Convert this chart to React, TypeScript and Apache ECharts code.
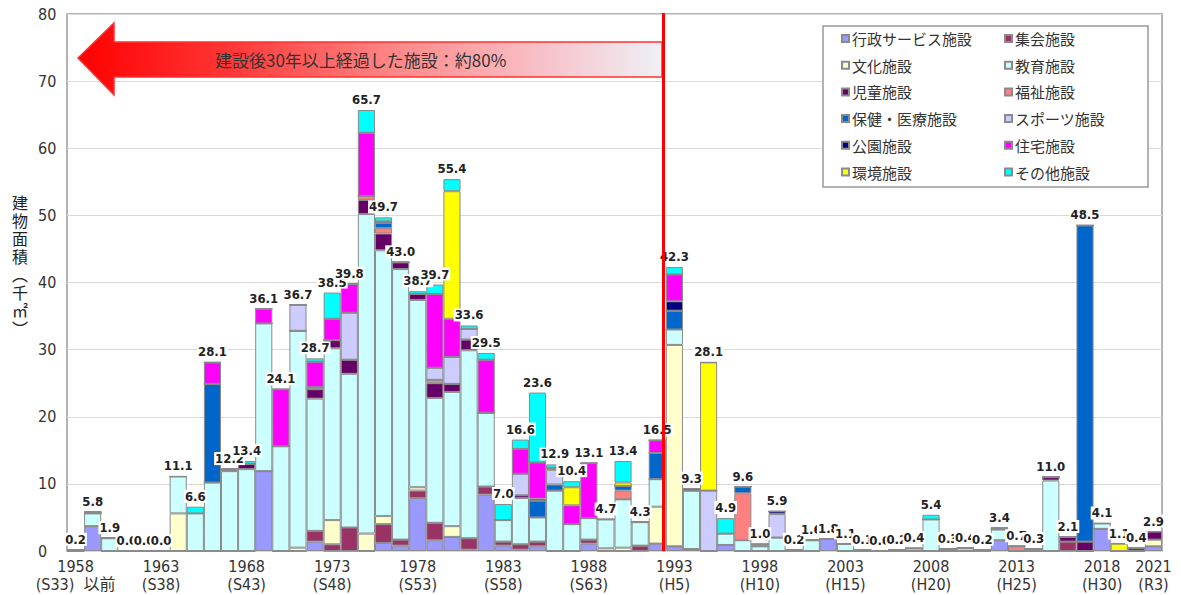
import React, { useEffect, useRef } from "react";
import * as echarts from "echarts";

const years = [
  "1958","1959","1960","1961","1962","1963","1964","1965","1966","1967",
  "1968","1969","1970","1971","1972","1973","1974","1975","1976","1977",
  "1978","1979","1980","1981","1982","1983","1984","1985","1986","1987",
  "1988","1989","1990","1991","1992","1993","1994","1995","1996","1997",
  "1998","1999","2000","2001","2002","2003","2004","2005","2006","2007",
  "2008","2009","2010","2011","2012","2013","2014","2015","2016","2017",
  "2018","2019","2020","2021",
];

const tickYears = ["1958","1963","1968","1973","1978","1983","1988","1993","1998","2003","2008","2013","2018","2021"];
const tickEras = ["(S33)  以前","(S38)","(S43)","(S48)","(S53)","(S58)","(S63)","(H5)","(H10)","(H15)","(H20)","(H25)","(H30)","(R3)"];

const gyosei = [
  0,3.7,0,0,0,0,0,0,0,0,
  0,11.9,0,0,1.4,0,0,0,1.2,0.8,
  7.9,1.6,2.1,0.2,8.4,0.8,0.2,0.7,0,0,
  1.1,0,0,0,1.1,0.7,0.3,0,0.9,0,
  0,0,0,0,1.8,0,0,0,0,0,
  0,0,0,0,1.6,0,0,0,0,0,
  3.3,0,0,0.7,
];
const shukai = [
  0,0,0,0,0,0,0,0,0,0,
  0,0,0,0,1.6,1.0,3.5,0,2.8,0.9,
  1.1,2.6,0,1.7,1.2,0.6,0.8,0.7,0,0,
  0.6,0,0,0.8,0,0,0,0,0,0,
  0,0,0,0,0,0,0,0,0,0,
  0,0,0,0,0,0,0,0,1.4,0,
  0,0,0,0,
];
const bunka = [
  0,0,0,0,0,0,5.6,0,0,0,
  0,0,0,0.5,0,3.6,0,2.6,1.2,0,
  0.5,0,1.6,0,0,0,0,0,0,0,
  0,0.4,0.5,0,5.5,30.0,0,0,0,0,
  0,0,0,0,0,0,0,0,0,0,
  0,0,0,0,0,0,0,0,0,0,
  0,0,0,1.0,
];
const kyoiku = [
  0.2,1.9,1.9,0,0,0,5.5,5.6,10.2,11.9,
  12.2,22.0,15.6,32.3,19.7,25.6,22.9,47.6,39.6,40.3,
  27.9,18.6,20.0,28.0,11.0,3.2,6.9,3.6,9.0,4.0,
  3.2,4.3,7.2,3.5,4.1,2.3,8.7,0,1.7,1.6,
  0.7,2.0,0.2,1.6,0,1.1,0.1,0,0.2,0,
  4.7,0,0.4,0.2,1.6,0,0.3,10.5,0,0,
  0.8,0,0,0,
];
const jido = [
  0,0,0,0,0,0,0,0,0,0.3,
  0.8,0,0,0,1.4,1.2,2.1,2.1,2.5,1.0,
  0.9,2.2,1.2,1.6,0,0,0.4,0,0,0,
  0,0,0,0,0,0,0,0,0,0,
  0,0,0,0,0,0,0,0,0,0,
  0,0.3,0,0,0,0,0,0.5,0.7,1.4,
  0,0,0.4,1.2,
];
const fukushi = [
  0,0,0,0,0,0,0,0,0,0,
  0,0,0,0,0,0,0,0.6,0.8,0,
  0,0.5,0,0,0,0,0,0,0,0,
  0,0,1.3,0,0,0,0,0,0,7.0,
  0,0,0,0,0,0,0,0,0,0,
  0,0,0,0,0,0.7,0,0,0,0,
  0,0,0,0,
];
const hoken = [
  0,0,0,0,0,0,0,0,14.7,0,
  0,0,0,0,0,0,0,0,0.8,0,
  0,0,0,0,0,0,0,2.5,0.9,0,
  0,0,0.7,0,3.9,2.8,0,0,0,1.0,
  0,0,0,0,0,0,0,0,0,0,
  0,0,0,0,0,0,0,0,0,47.1,
  0,0,0,0,
];
const sports = [
  0,0.2,0,0,0,0,0,0,0,0,
  0,0,0,3.9,0.3,0,7.0,0,0,0,
  0,1.8,4.0,1.6,0,0,3.2,0,2.2,0,
  0,0,0,0,0,0,0,9.0,0,0,
  0.3,3.5,0,0,0,0,0,0,0,0.4,
  0,0,0,0,0.2,0,0,0,0,0,
  0,0,0,0,
];
const koen = [
  0,0,0,0,0,0,0,0,0,0,
  0,0,0,0,0,0,0,0,0.2,0,
  0,0,0,0,0,0,0,0.3,0.3,0,
  0,0,0,0,0,1.4,0.3,0,0,0,
  0,0.4,0,0,0,0,0,0,0,0,
  0,0,0,0,0,0,0,0,0,0,
  0,0,0,0,
];
const jutaku = [
  0,0,0,0,0,0,0,0,3.2,0,
  0,2.2,8.5,0,3.8,3.2,4.3,9.4,0,0,
  0,11.0,5.7,0,7.9,0,3.7,5.4,0,2.8,
  8.2,0,0,0,1.9,4.0,0,0,0,0,
  0,0,0,0,0,0,0,0,0,0,
  0,0,0,0,0,0,0,0,0,0,
  0,0,0,0,
];
const kankyo = [
  0,0,0,0,0,0,0,0,0,0,
  0,0,0,0,0,0,0,0,0,0,
  0,0,19.0,0,0,0,0,0,0,2.7,
  0,0,0.5,0,0,0,0,19.1,0,0,
  0,0,0,0,0,0,0,0,0,0,
  0,0,0,0,0,0,0,0,0,0,
  0,1.1,0,0,
];
const sonota = [
  0,0,0,0,0,0,0,1.0,0,0,
  0.4,0,0,0,0.5,3.9,0,3.4,0.6,0,
  0.4,1.4,1.8,0.5,1.0,2.4,1.4,10.4,0.5,0.9,
  0,0,3.2,0,0,1.1,0,0,2.3,0,
  0,0,0,0,0,0,0,0,0,0,
  0.7,0,0,0,0,0,0,0,0,0,
  0,0,0,0,
];
const totals = [
  0.2,5.8,1.9,0.0,0.0,0.0,11.1,6.6,28.1,12.2,
  13.4,36.1,24.1,36.7,28.7,38.5,39.8,65.7,49.7,43.0,
  38.7,39.7,55.4,33.6,29.5,7.0,16.6,23.6,12.9,10.4,
  13.1,4.7,13.4,4.3,16.5,42.3,9.3,28.1,4.9,9.6,
  1.0,5.9,0.2,1.6,1.8,1.1,0.1,0.0,0.2,0.4,
  5.4,0.3,0.4,0.2,3.4,0.7,0.3,11.0,2.1,48.5,
  4.1,1.1,0.4,2.9,
];

const seriesNames = [
  "行政サービス施設","集会施設","文化施設","教育施設","児童施設","福祉施設",
  "保健・医療施設","スポーツ施設","公園施設","住宅施設","環境施設","その他施設",
];
const seriesColors = [
  "#9999FF","#993366","#FFFFCC","#CCFFFF","#660066","#FF8080",
  "#0066CC","#CCCCFF","#000080","#FF00FF","#FFFF00","#00FFFF",
];
const seriesData = [gyosei, shukai, bunka, kyoiku, jido, fukushi, hoken, sports, koen, jutaku, kankyo, sonota];

const leftLegend = ["行政サービス施設","文化施設","児童施設","保健・医療施設","公園施設","環境施設"];
const rightLegend = ["集会施設","教育施設","福祉施設","スポーツ施設","住宅施設","その他施設"];

const arrowText = "建設後30年以上経過した施設：約80%";
const yNameChars = ["建","物","面","積","︵","千","㎡","︶"];

const NARROW = "'Liberation Sans Narrow', 'DejaVu Sans Condensed', 'Noto Sans CJK JP', sans-serif";
const CJK = "'Noto Sans CJK JP', 'Noto Sans', sans-serif";

export default function App() {
  const ref = useRef<HTMLDivElement>(null);
  useEffect(() => {
    document.body.style.margin = "0";
    if (!ref.current) return;
    const chart = echarts.init(ref.current, null, { renderer: "svg" });

    const stacked = seriesNames.map((name, k) => ({
      name,
      type: "bar",
      stack: "total",
      data: seriesData[k],
      barCategoryGap: "0%",
      barGap: "-100%",
      itemStyle: { color: seriesColors[k], borderColor: "#8a8a8a", borderWidth: 1 },
      emphasis: { disabled: true },
      z: 2,
    }));

    const legendCommon = {
      orient: "vertical",
      top: 30,
      padding: 0,
      itemWidth: 7,
      itemHeight: 7,
      itemGap: 9.7,
      icon: "rect",
      selectedMode: false,
      textStyle: { fontFamily: CJK, fontSize: 15, color: "#333", lineHeight: 17, padding: [0, 0, 0, -2] },
      z: 6,
    };

    const yNameTexts = yNameChars.map((ch, i) => ({
      type: "text",
      z: 6,
      x: 20,
      y: 202 + i * 18,
      style: {
        text: ch,
        font: `16px ${CJK}`,
        fill: "#222",
        textAlign: "center",
        textVerticalAlign: "middle",
      },
    }));

    const option: any = {
      animation: false,
      grid: {
        left: 67, right: 19, top: 14, bottom: 44,
        show: true, borderColor: "#9a9a9a", borderWidth: 1.5,
        outerBoundsMode: "none",
      },
      xAxis: {
        type: "category",
        data: years,
        axisTick: { show: false },
        axisLine: { show: false },
        axisLabel: {
          interval: (_i: number, v: string) => tickYears.includes(v),
          formatter: (v: string) => {
            const k = tickYears.indexOf(v);
            return k >= 0 ? v + "\n" + tickEras[k] : "";
          },
          showMaxLabel: true,
          showMinLabel: true,
          hideOverlap: false,
          fontFamily: NARROW,
          fontSize: 16,
          lineHeight: 18,
          color: "#333",
          margin: 6,
        },
      },
      yAxis: {
        type: "value",
        min: 0,
        max: 80,
        interval: 10,
        axisLine: { show: false },
        axisTick: { show: false },
        splitLine: { lineStyle: { color: "#d9d9d9", width: 1.2 } },
        axisLabel: { fontFamily: NARROW, fontSize: 16, color: "#333", align: "left", margin: 29 },
      },
      legend: [
        { ...legendCommon, left: 841, data: leftLegend },
        { ...legendCommon, left: 1004, data: rightLegend },
      ],
      series: [
        ...stacked,
        {
          name: "合計",
          type: "bar",
          data: totals,
          barCategoryGap: "0%",
          barGap: "-100%",
          silent: true,
          itemStyle: { color: "rgba(0,0,0,0)", borderWidth: 0 },
          label: {
            show: true,
            position: "top",
            distance: 4,
            formatter: (p: any) => totals[p.dataIndex].toFixed(1),
            fontFamily: NARROW,
            fontWeight: "bold",
            fontSize: 13,
            color: "#222",
            backgroundColor: "#fff",
            padding: [0, 1, 0, 1],
          },
          z: 4,
        },
      ],
      graphic: [
        {
          type: "polygon",
          z: 5,
          shape: {
            points: [[78, 58], [114, 23], [114, 42], [662, 42], [662, 77], [114, 77], [114, 95]],
          },
          style: {
            fill: new echarts.graphic.LinearGradient(0, 0, 1, 0, [
              { offset: 0, color: "#ff0000" },
              { offset: 0.25, color: "#ff3434" },
              { offset: 0.55, color: "#ff8a8a" },
              { offset: 0.8, color: "#f8c2ca" },
              { offset: 1, color: "#eef0f6" },
            ]),
            stroke: "#ff3030",
            lineWidth: 1.5,
          },
        },
        {
          type: "text",
          z: 6,
          x: 215,
          y: 59,
          style: {
            text: arrowText,
            font: `17px ${CJK}`,
            fill: "#333",
            textVerticalAlign: "middle",
          },
        },
        {
          type: "rect",
          z: 5,
          shape: { x: 823, y: 26, width: 325, height: 161 },
          style: { fill: "#fff", stroke: "#999", lineWidth: 1.5 },
        },
        {
          type: "line",
          z: 10,
          shape: { x1: 663.5, y1: 13, x2: 663.5, y2: 551 },
          style: { stroke: "#ff0000", lineWidth: 3 },
        },
        ...yNameTexts,
      ],
    };

    chart.setOption(option);
    return () => chart.dispose();
  }, []);

  return <div ref={ref} style={{ width: 1181, height: 595 }} />;
}
